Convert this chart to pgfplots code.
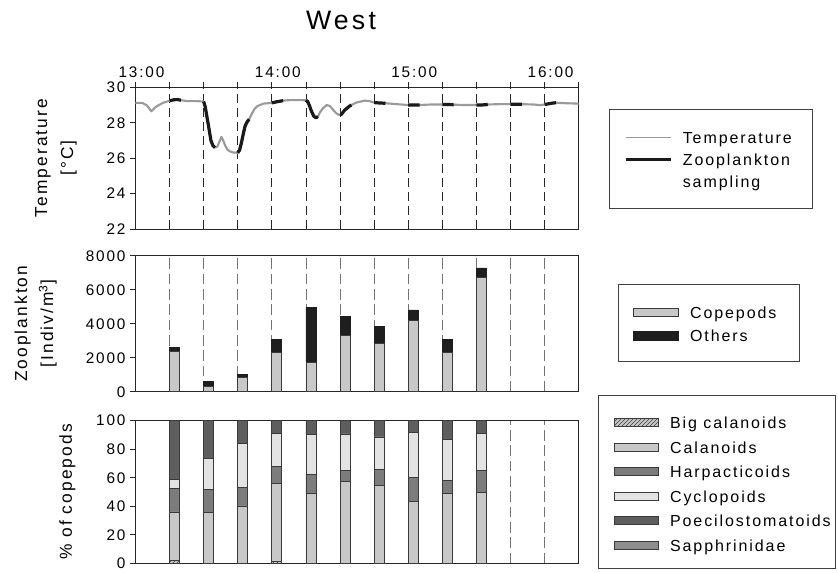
\documentclass[border=0pt]{standalone}
\usepackage{fontspec}
\setmainfont{Liberation Sans}[LetterSpace=12]
\usepackage{pgfplots}
\pgfplotsset{compat=1.18}
\usepackage{pgfplotstable}
\usetikzlibrary{patterns}
\definecolor{tempgray}{HTML}{9A9A9A}
\definecolor{sampblack}{HTML}{1A1A1A}
\definecolor{copgray}{HTML}{C8C8C8}
\definecolor{othblack}{HTML}{1E1E1E}
\definecolor{harpgray}{HTML}{7C7C7C}
\definecolor{cycgray}{HTML}{E3E3E3}
\definecolor{poecgray}{HTML}{5E5E5E}
\definecolor{sapgray}{HTML}{8E8E8E}
\definecolor{edgegray}{HTML}{3A3A3A}

\pgfplotstableread[row sep=\\]{
t T\\
0 29.12\\ 3 29.12\\ 5 28.98\\ 7 28.65\\ 9 28.9\\ 12 29.12\\ 15 29.24\\ 17 29.3\\ 18.5 29.31\\ 20 29.27\\
23 29.22\\ 27 29.22\\ 30 29.2\\ 30.7 28.9\\ 31.5 28.3\\ 32.3 27.7\\ 33.2 27.0\\ 34.1 26.7\\ 35 26.6\\
36 26.65\\ 37 26.95\\ 37.8 27.2\\ 38.6 27.0\\ 39.5 26.7\\ 40.5 26.48\\ 41.6 26.38\\ 43 26.32\\ 45 26.3\\
45.8 26.45\\ 46.6 26.85\\ 47.4 27.35\\ 48.2 27.8\\ 49 28.02\\ 50 28.2\\ 51.3 28.53\\ 52.5 28.8\\ 53.8 28.95\\
56.3 29.08\\ 60 29.12\\ 62 29.18\\ 65 29.25\\ 68 29.28\\ 72 29.28\\ 75 29.27\\ 75.8 29.19\\ 76.6 28.95\\
77.5 28.63\\ 78.5 28.36\\ 79.4 28.28\\ 80.3 28.35\\ 81.1 28.57\\ 82.5 28.82\\ 84.1 29.0\\ 85.5 28.95\\
87 28.72\\ 88.5 28.52\\ 89.6 28.44\\ 90.5 28.46\\ 92.1 28.72\\ 94.3 28.95\\ 97.2 29.14\\ 100.9 29.25\\
103 29.22\\ 105 29.14\\ 107 29.12\\ 110 29.1\\ 115 29.05\\ 120 29.0\\ 122 29.0\\ 125 29.0\\ 130 29.03\\
135 29.03\\ 137 29.03\\ 140 29.02\\ 145 29.0\\ 150 29.0\\ 152 29.0\\ 155 29.03\\ 160 29.05\\ 165 29.05\\
167 29.05\\ 170 29.05\\ 175 29.03\\ 178 29.0\\ 180 29.03\\ 183 29.1\\ 185 29.13\\ 190 29.1\\ 195 29.08\\
}\temptable

\pgfplotstableread[row sep=\\]{
t T\\
15 29.24\\ 17 29.3\\ 18.5 29.31\\ 20 29.27\\ 20 nan\\
30 29.2\\ 30.7 28.9\\ 31.5 28.3\\ 32.3 27.7\\ 33.2 27.0\\ 34.1 26.7\\ 35 26.6\\ 35 nan\\
45 26.3\\ 45.8 26.45\\ 46.6 26.85\\ 47.4 27.35\\ 48.2 27.8\\ 49 28.02\\ 50 28.2\\ 50 nan\\
60 29.12\\ 62 29.18\\ 65 29.25\\ 65 nan\\
75 29.27\\ 75.8 29.19\\ 76.6 28.95\\ 77.5 28.63\\ 78.5 28.36\\ 79.4 28.28\\ 80.3 28.35\\ 80.3 nan\\
90 28.45\\ 90.5 28.46\\ 92.1 28.72\\ 94.3 28.95\\ 95 29.0\\ 95 nan\\
105 29.14\\ 107 29.12\\ 110 29.1\\ 110 nan\\
120 29.0\\ 122 29.0\\ 125 29.0\\ 125 nan\\
135 29.03\\ 137 29.03\\ 140 29.02\\ 140 nan\\
150 29.0\\ 152 29.0\\ 155 29.03\\ 155 nan\\
165 29.05\\ 167 29.05\\ 170 29.05\\ 170 nan\\
180 29.03\\ 183 29.1\\ 185 29.13\\
}\samptable

\pgfplotstableread[row sep=\\]{
x cop oth\\
17.2 2350 230\\
32.2 290 320\\
47.2 860 140\\
62.2 2310 770\\
77.2 1730 3250\\
92.2 3290 1140\\
107.2 2820 1040\\
122.2 4180 630\\
137.2 2310 770\\
152.2 6730 550\\
}\zootable

\pgfplotstableread[row sep=\\]{
x big cal harp cyc poec sapph\\
17.2 2 34 16.6 6.3 41.1 0\\
32.2 0 35.7 16.4 21.7 26.2 0\\
47.2 0 40.2 13.1 30.8 15.9 0\\
62.2 1.4 54.7 11.9 22.9 9.1 0\\
77.2 0 48.8 13.8 27.8 9.6 0\\
92.2 0 57.2 8.0 25.5 9.3 0\\
107.2 0 54.9 11.0 22.7 11.4 0\\
122.2 0 43.5 16.5 31.8 8.2 0\\
137.2 0 49.1 9.1 28.7 13.1 0\\
152.2 0 49.8 15.2 26.1 8.9 0\\
}\coptable

\pgfplotsset{
  panel/.style={
    scale only axis, width=332.4pt, xmin=0, xmax=195,
    axis line style={black!85, line width=0.6pt},
    tick style={black!85, line width=0.6pt},
    tick align=outside, major tick length=4pt,
    ytick pos=left,
    ticklabel style={font=\fontsize{11.5}{13}\selectfont},
    /pgf/number format/assume math mode=true,
    /pgf/number format/1000 sep={},
    scaled y ticks=false,
    ylabel style={font=\fontsize{13}{19.5}\selectfont, align=center, anchor=center},
    xmajorgrids,
    legend cell align=left,
  },
  legbox/.style={draw=none, fill=none, inner sep=0pt, row sep=#1,
    nodes={inner sep=0pt, text height=11pt, text depth=2pt, font=\fontsize{12}{15}\selectfont}},
}

\begin{document}
\begin{tikzpicture}
\useasboundingbox (0,0) rectangle (628.5pt,-429pt);

\node[font=\fontsize{20}{24}\selectfont] at (255.75pt,-15pt) {West};

% ---------- Temperature panel
\begin{axis}[panel, at={(101.6pt,-65.5pt)}, anchor=north west, height=106.2pt,
  ymin=22, ymax=30, ytick={22,24,26,28,30},
  xtick={0,15,...,195},
  xticklabels={13:00,,,,14:00,,,,15:00,,,,16:00,},
  xtick pos=right, xticklabel pos=right,
  xticklabel style={xshift=4.5pt},
  major grid style={black!85, line width=0.6pt, dash pattern=on 7pt off 3.5pt},
  ylabel={Temperature\\{[°C]}},
  ylabel style={at={(axis description cs:-0.1793,0.5)}},
  legend style={legbox=3.5pt, at={(1.1023,0.708)}, anchor=north west},
  legend image code/.code={\draw[#1] (0pt,0pt) -- (33.75pt,0pt); \path (42pt,0pt);},
]
\addplot[tempgray, line width=1.6pt, line join=round, forget plot] table[x=t,y=T]{\temptable};
\addplot[sampblack, line width=2.4pt, line join=round, unbounded coords=jump, forget plot] table[x=t,y=T]{\samptable};
\addlegendimage{tempgray, line width=0.9pt}
\addlegendentry{Temperature}
\addlegendimage{sampblack, line width=1.9pt}
\addlegendentry{Zooplankton}
\addlegendimage{empty legend}
\addlegendentry{sampling}
\end{axis}

% ---------- Zooplankton panel
\begin{axis}[panel, at={(101.6pt,-191.8pt)}, anchor=north west, height=102pt,
  ymin=0, ymax=8000, ytick={0,2000,4000,6000,8000},
  xtick={15,30,...,180}, xticklabels={}, major x tick style={draw=none},
  major grid style={black!55, line width=0.6pt, dash pattern=on 8pt off 3.5pt},
  ybar stacked, bar width=4.4,
  ylabel={Zooplankton\\{[Indiv/m\textsuperscript{3}]}},
  ylabel style={at={(axis description cs:-0.225,0.5)}},
  legend style={legbox=4.5pt, at={(1.1226,0.648)}, anchor=north west},
  every axis plot post/.append style={legend image code/.code={\draw[#1] (0pt,-3.25pt) rectangle (33.75pt,3.25pt); \path (42pt,0pt);}},
]
\addplot[fill=copgray, draw=edgegray, line width=0.6pt] table[x=x,y=cop]{\zootable};
\addlegendentry{Copepods}
\addplot[fill=othblack, draw=othblack, line width=0.6pt] table[x=x,y=oth]{\zootable};
\addlegendentry{Others}
\end{axis}

% ---------- Copepod composition panel
\begin{axis}[panel, at={(101.6pt,-315.5pt)}, anchor=north west, height=107pt,
  ymin=0, ymax=100, ytick={0,20,40,60,80,100},
  xtick={15,30,...,180}, xticklabels={}, major x tick style={draw=none},
  major grid style={black!55, line width=0.6pt, dash pattern=on 8pt off 3.5pt},
  ybar stacked, bar width=4.4,
  ylabel={\% of copepods},
  ylabel style={at={(axis description cs:-0.1534,0.5)}},
  legend style={legbox=5.4pt, at={(1.0797,1.0495)}, anchor=north west},
  every axis plot post/.append style={legend image code/.code={\draw[#1] (0pt,-3.1pt) rectangle (33pt,3.1pt); \path (41.25pt,0pt);}},
]
\addplot[fill=copgray, draw=edgegray, line width=0.6pt, postaction={pattern=north east lines, pattern color=black!75}] table[x=x,y=big]{\coptable};
\addlegendentry{Big calanoids}
\addplot[fill=copgray, draw=edgegray, line width=0.6pt] table[x=x,y=cal]{\coptable};
\addlegendentry{Calanoids}
\addplot[fill=harpgray, draw=edgegray, line width=0.6pt] table[x=x,y=harp]{\coptable};
\addlegendentry{Harpacticoids}
\addplot[fill=cycgray, draw=edgegray, line width=0.6pt] table[x=x,y=cyc]{\coptable};
\addlegendentry{Cyclopoids}
\addplot[fill=poecgray, draw=edgegray, line width=0.6pt] table[x=x,y=poec]{\coptable};
\addlegendentry{Poecilostomatoids}
\addplot[fill=sapgray, draw=edgegray, line width=0.6pt] table[x=x,y=sapph]{\coptable};
\addlegendentry{Sapphrinidae}
\end{axis}

% legend frames
\draw[black!75, line width=0.6pt] (457pt,-82pt) rectangle (609.2pt,-156.2pt);
\draw[black!75, line width=0.6pt] (463.7pt,-213pt) rectangle (599.25pt,-270.75pt);
\draw[black!75, line width=0.6pt] (448.7pt,-296.25pt) rectangle (626.25pt,-426pt);
\end{tikzpicture}
\end{document}
